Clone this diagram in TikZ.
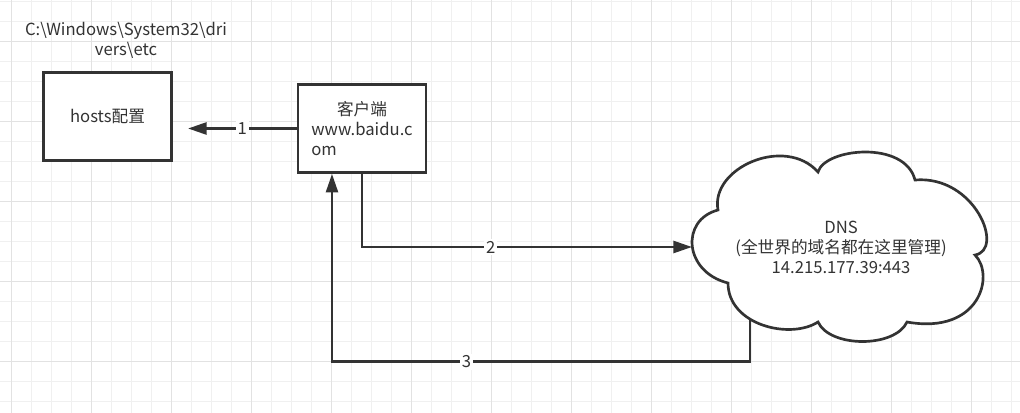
\documentclass[tikz,border=0pt]{standalone}
\usepackage{fontspec}
\setmainfont{Noto Sans CJK SC}
\usepackage{calc}
\usepackage{tikz}
\usetikzlibrary{arrows.meta}
\definecolor{inkgrey}{HTML}{333333}
\definecolor{gridminor}{HTML}{F0F0F0}
\definecolor{gridmajor}{HTML}{E2E2E2}
\tikzset{
  txt/.style={text=inkgrey,font=\fontsize{12.5pt}{15pt}\selectfont,inner sep=0pt},
  box/.style={txt,draw=inkgrey,line width=2pt,fill=white,minimum width=96pt,minimum height=66pt},
  cloudline/.style={draw=inkgrey,line width=2pt,fill=white},
  flow/.style={-{Triangle[length=14pt,width=9pt]},draw=inkgrey,line width=2pt},
  num/.style={txt,fill=white,inner sep=1.5pt},
}
\begin{document}
\begin{tikzpicture}[x=0.75pt,y=-0.75pt]
  \useasboundingbox (0,0) rectangle (1020,413);
  \fill[white] (0,0) rectangle (1020,413);
  % grid
  \foreach \i in {0,...,50} \draw[gridminor,line width=0.75pt] (\i*20+11.7,0) -- (\i*20+11.7,413);
  \foreach \j in {0,...,20} \draw[gridminor,line width=0.75pt] (0,\j*20+1.7) -- (1020,\j*20+1.7);
  \foreach \i in {0,...,12} \draw[gridmajor,line width=0.75pt] (\i*80+11.7,0) -- (\i*80+11.7,413);
  \foreach \j in {0,...,4} \draw[gridmajor,line width=0.75pt] (0,\j*80+41.7) -- (1020,\j*80+41.7);
  % cloud
  \draw[cloudline]
    (728,283) .. controls (684,272) and (680,220) .. (718,210)
    .. controls (710,168) and (785,135) .. (818,172)
    .. controls (825,148) and (905,140) .. (915,180)
    .. controls (975,175) and (1005,250) .. (975,255)
    .. controls (995,275) and (980,335) .. (907,322)
    .. controls (895,348) and (830,348) .. (818,322)
    .. controls (790,340) and (728,325) .. (728,283) -- cycle;
  \coordinate (dnsW) at (692,247);
  \coordinate (dnsS) at (750,320);
  \node[txt,align=center] (dns) at (841,247) {DNS\\(全世界的域名都在这里管理)\\14.215.177.39:443};
  % boxes
  \node[txt,align=center] (hostspath) at (126,40) {C:\textbackslash Windows\textbackslash System32\textbackslash dri\\vers\textbackslash etc};
  \node[box] (hosts) at (107.5,116.5) {hosts配置};
  \node[box,align=left] (client) at (362,128.5) {\makebox[\widthof{www.baidu.c}]{客户端}\\www.baidu.c\\om};
  % flows
  \coordinate (hostsin) at (188,128.5);
  \coordinate (back) at (332,361.7);
  \draw[flow] (client.west) -- node[num]{1} (hostsin);
  \draw[flow] (client.south) |- node[num,pos=0.695]{2} (dnsW);
  \draw[flow] (dnsS) |- node[num,pos=0.839]{3} (back) -- (back |- client.south);
\end{tikzpicture}
\end{document}
